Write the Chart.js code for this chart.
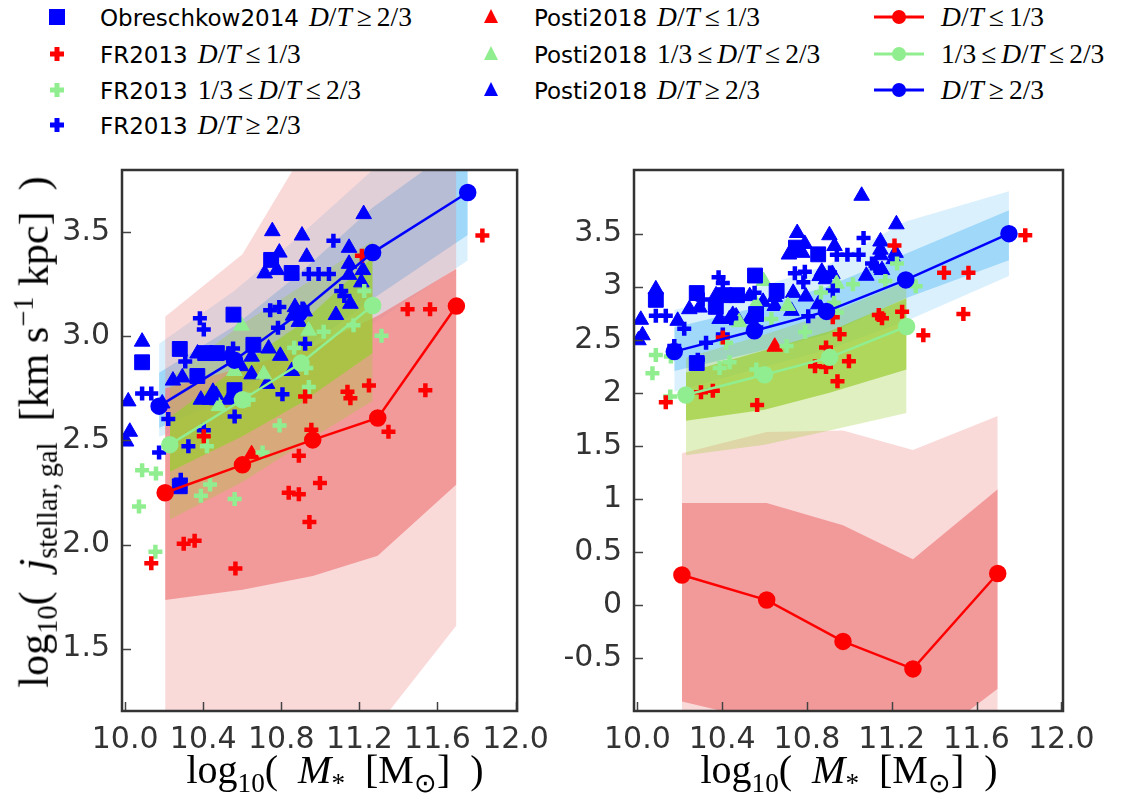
<!DOCTYPE html>
<html lang="en">
<head>
<meta charset="UTF-8">
<title>j_stellar vs M_star</title>
<script src="https://cdn.jsdelivr.net/npm/chart.js"></script>
<style>
    body { margin: 0; background: #fff; }
    #page { position: relative; width: 1122px; height: 800px; overflow: hidden; font-family: "DejaVu Sans", sans-serif; }
    canvas { position: absolute; top: 140px; }
    .mk { position: absolute; }
    .txt { position: absolute; font-size: 23px; color: #000; white-space: nowrap; transform: translateY(-50%); line-height: 30px; }
    .m { font-family: "Liberation Serif", serif; font-size: 27.5px; }
    .m.after { margin-left: 10px; }
    .rel { padding: 0 5px; }
    .lab { position: absolute; font-family: "Liberation Serif", serif; font-size: 40px; white-space: nowrap; color: #000; }
    .lab sub, .lab sup { font-size: 0.68em; }
</style>
</head>
<body>
<div id="page">
    <div id="legend"></div>
    <canvas id="left" width="560" height="660" style="left:0"></canvas>
    <canvas id="right" width="562" height="660" style="left:560px"></canvas>
    <div class="lab" style="left:335px;top:772px;transform:translate(-50%,-50%)">log<sub>10</sub>(&ensp;<i>M</i><sub>*</sub>&ensp;[M<sub>⊙</sub>]&ensp;)</div>
    <div class="lab" style="left:849px;top:772px;transform:translate(-50%,-50%)">log<sub>10</sub>(&ensp;<i>M</i><sub>*</sub>&ensp;[M<sub>⊙</sub>]&ensp;)</div>
    <div class="lab" style="left:36px;top:432px;font-size:42px;transform:translate(-50%,-50%) rotate(-90deg)">log<sub>10</sub>(&ensp;<i>j</i><sub>stellar,&thinsp;gal</sub>&ensp;[km s<sup>−1</sup> kpc]&ensp;)</div>
</div>

<script>
    // tick labels
    const xTicks = [10.0, 10.4, 10.8, 11.2, 11.6, 12.0];
    const yTicksLeft = [1.5, 2.0, 2.5, 3.0, 3.5];
    const yTicksRight = [-0.5, 0, 0.5, 1, 1.5, 2, 2.5, 3, 3.5];

    // observations, same points in both panels
    const obrX = [10.087, 10.28, 10.37, 10.41, 10.47, 10.555, 10.56, 10.657, 10.748, 10.853, 10.28];
    const obrY = [2.876, 2.94, 2.81, 2.92, 2.92, 3.105, 2.742, 2.96, 3.368, 3.305, 2.28];

    const fr13LowX = [11.83, 11.447, 11.562, 11.538, 11.249, 11.139, 11.154, 10.922, 11.213, 11.349, 10.954, 10.89, 10.998, 10.838, 10.89, 10.944, 10.30, 10.356, 10.134, 10.565, 10.403];
    const fr13LowY = [3.485, 3.131, 3.131, 2.742, 2.764, 2.734, 2.703, 2.711, 3.388, 2.542, 2.552, 2.427, 2.296, 2.249, 2.242, 2.108, 2.004, 2.018, 1.91, 1.885, 2.52];

    const fr13MidX = [11.313, 11.17, 11.017, 11.225, 10.941, 10.866, 10.928, 10.791, 10.704, 10.419, 10.435, 10.388, 10.561, 10.087, 10.158, 10.071, 10.155, 10.632];
    const fr13MidY = [3.003, 3.054, 3.023, 3.219, 2.757, 2.946, 2.849, 2.572, 2.442, 2.472, 2.288, 2.234, 2.219, 2.357, 2.342, 2.183, 1.965, 2.696];

    const fr13HighX = [11.067, 10.941, 10.991, 11.044, 11.107, 11.123, 10.383, 10.403, 10.743, 10.79, 10.783, 10.909, 10.922, 10.553, 10.427, 10.308, 10.087, 10.134, 10.806, 10.443, 10.221, 10.174, 10.324, 10.403, 10.561, 10.285];
    const fr13HighY = [3.46, 3.30, 3.30, 3.30, 3.219, 3.195, 3.088, 3.034, 3.126, 3.141, 3.042, 3.134, 2.965, 2.942, 2.918, 2.88, 2.726, 2.726, 2.722, 2.703, 2.603, 2.442, 2.472, 2.549, 2.615, 2.311];

    const postiLowX = [10.648];
    const postiLowY = [2.434];

    const postiMidX = [10.596, 10.48, 10.71, 10.56, 10.94];
    const postiMidY = [3.052, 2.665, 2.818, 2.834, 3.028];

    const postiHighX = [10.016, 10.024, 10.005, 10.087, 10.19, 10.245, 10.293, 10.371, 10.388, 10.435, 10.45, 10.466, 10.53, 10.53, 10.593, 10.648, 10.648, 10.735, 10.795, 10.727, 10.854, 10.87, 10.86, 10.92, 10.89, 11.08, 11.154, 11.147, 11.147, 11.147, 11.218, 11.21, 11.222, 10.906, 10.93, 10.754, 10.79, 10.715, 10.778, 11.058];
    const postiHighY = [2.688, 2.542, 2.495, 2.975, 2.678, 2.788, 2.803, 2.918, 2.696, 2.696, 2.734, 2.719, 2.696, 2.911, 2.857, 2.903, 2.818, 2.942, 2.907, 2.772, 2.834, 3.141, 3.10, 3.12, 3.07, 3.103, 3.157, 3.426, 3.349, 3.296, 3.319, 3.26, 3.588, 3.485, 3.383, 3.506, 3.403, 3.303, 3.319, 3.857];

    // left panel: simulation medians with inner and outer percentile ranges
    const lowLX = [10.205, 10.601, 10.961, 11.294, 11.697];
    const lowLMed = [2.249, 2.383, 2.503, 2.608, 3.146];
    const lowLInHi = [2.75, 2.85, 2.95, 3.10, 3.326];
    const lowLInLo = [1.734, 1.783, 1.849, 1.946, 2.288];
    const lowLOutHi = [3.095, 3.395, 3.96, 4.3, 4.6];
    const lowLOutLo = [0.9, 0.95, 1.0, 1.13, 1.611];

    const midLX = [10.229, 10.601, 10.901, 11.268];
    const midLMed = [2.48, 2.696, 2.872, 3.149];
    const midLInHi = [2.61, 2.87, 3.06, 3.38];
    const midLInLo = [2.35, 2.52, 2.68, 2.92];
    const midLOutHi = [2.80, 3.06, 3.24, 3.46];
    const midLOutLo = [2.12, 2.30, 2.48, 2.69];

    const highLX = [10.174, 10.56, 10.89, 11.268, 11.755];
    const highLMed = [2.665, 2.886, 3.11, 3.403, 3.692];
    const highLInHi = [2.826, 3.05, 3.30, 3.62, 3.95];
    const highLInLo = [2.56, 2.72, 2.92, 3.18, 3.488];
    const highLOutHi = [2.965, 3.22, 3.48, 3.80, 4.10];
    const highLOutLo = [2.518, 2.64, 2.82, 3.06, 3.365];

    // right panel
    const lowRX = [10.21, 10.61, 10.97, 11.30, 11.70];
    const lowRMed = [0.282, 0.046, -0.344, -0.603, 0.296];
    const lowRInHi = [0.96, 0.96, 0.75, 0.43, 1.09];
    const lowRInLo = [-0.91, -1.1, -1.3, -1.4, -0.79];
    const lowROutHi = [1.43, 1.63, 1.645, 1.46, 1.78];
    const lowROutLo = [-1.3, -1.5, -1.7, -1.8, -1.2];

    const midRX = [10.229, 10.60, 10.907, 11.27];
    const midRMed = [1.979, 2.17, 2.334, 2.625];
    const midRInHi = [2.19, 2.40, 2.58, 2.89];
    const midRInLo = [1.736, 1.84, 2.0, 2.22];
    const midROutHi = [2.33, 2.55, 2.75, 3.05];
    const midROutLo = [1.41, 1.51, 1.645, 1.81];

    const highRX = [10.174, 10.552, 10.892, 11.266, 11.753];
    const highRMed = [2.388, 2.585, 2.767, 3.064, 3.5];
    const highRInHi = [2.615, 2.80, 3.0, 3.31, 3.72];
    const highRInLo = [2.206, 2.38, 2.55, 2.89, 3.25];
    const highROutHi = [2.78, 2.98, 3.2, 3.615, 3.90];
    const highROutLo = [2.01, 2.22, 2.40, 2.675, 3.10];

    const RED = '#ff0000', GREEN = '#90ee90', BLUE = '#0000ff';
    const redBand = '240,128,128', greenBand = '154,205,50', blueBand = '135,206,250';

    function pts(xs, ys) {
        return xs.map((x, i) => ({ x: x, y: ys[i] }));
    }

    function bandSets(xs, hi, lo, rgb, alpha, order) {
        return [
            { type: 'line', data: pts(xs, hi), fill: '+1', backgroundColor: `rgba(${rgb},${alpha})`,
              borderColor: 'rgba(0,0,0,0)', borderWidth: 0, pointRadius: 0, tension: 0, order: order },
            { type: 'line', data: pts(xs, lo), fill: false,
              borderColor: 'rgba(0,0,0,0)', borderWidth: 0, pointRadius: 0, tension: 0, order: order }
        ];
    }

    function obsSet(xs, ys, style, color, r) {
        return {
            type: 'scatter', data: pts(xs, ys), showLine: false,
            pointStyle: style, pointRadius: r, pointHoverRadius: r,
            pointBackgroundColor: color, pointBorderColor: color,
            pointBorderWidth: style === 'cross' ? 4.5 : 1, order: 2
        };
    }

    function medianSet(xs, ys, color) {
        return {
            type: 'line', data: pts(xs, ys), borderColor: color, borderWidth: 2.5, fill: false, tension: 0,
            pointRadius: 7.5, pointBackgroundColor: color, pointBorderColor: color, order: 1
        };
    }

    function observations() {
        return [
            obsSet(obrX, obrY, 'rect', BLUE, 10.5),
            obsSet(fr13LowX, fr13LowY, 'cross', RED, 7),
            obsSet(fr13MidX, fr13MidY, 'cross', GREEN, 7),
            obsSet(fr13HighX, fr13HighY, 'cross', BLUE, 7),
            obsSet(postiLowX, postiLowY, 'triangle', RED, 9),
            obsSet(postiMidX, postiMidY, 'triangle', GREEN, 9),
            obsSet(postiHighX, postiHighY, 'triangle', BLUE, 9)
        ];
    }

    // frame on four sides and ticks pointing inwards
    const framePlugin = {
        id: 'frame',
        afterDraw(chart) {
            const { ctx, chartArea: a, scales } = chart;
            ctx.save();
            ctx.strokeStyle = '#444';
            ctx.lineWidth = 1.5;
            ctx.beginPath();
            scales.x.ticks.forEach(t => {
                const px = Math.round(scales.x.getPixelForValue(t.value)) + 0.5;
                ctx.moveTo(px, a.bottom);
                ctx.lineTo(px, a.bottom - 9);
            });
            scales.y.ticks.forEach(t => {
                const py = Math.round(scales.y.getPixelForValue(t.value)) + 0.5;
                ctx.moveTo(a.left, py);
                ctx.lineTo(a.left + 9, py);
            });
            ctx.stroke();
            ctx.strokeStyle = '#333';
            ctx.lineWidth = 2.5;
            ctx.strokeRect(a.left, a.top, a.right - a.left, a.bottom - a.top);
            ctx.restore();
        }
    };

    function makeOptions(yMin, yMax, yTicks, yWidth, padRight, yFmt) {
        const tickFont = { family: 'DejaVu Sans', size: 30 };
        return {
            responsive: false,
            animation: false,
            events: [],
            layout: { padding: { left: 0, top: 10, right: padRight, bottom: 0 } },
            plugins: { legend: { display: false }, tooltip: { enabled: false } },
            scales: {
                x: {
                    type: 'linear', min: 9.984, max: 12.008,
                    grid: { display: false, drawTicks: false }, border: { display: false },
                    afterBuildTicks: s => { s.ticks = xTicks.map(v => ({ value: v })); },
                    afterFit: s => { s.height = 89; },
                    ticks: { autoSkip: false, maxRotation: 0, padding: 11, color: '#333', font: tickFont,
                             callback: v => v.toFixed(1) }
                },
                y: {
                    type: 'linear', min: yMin, max: yMax,
                    grid: { display: false, drawTicks: false }, border: { display: false },
                    afterBuildTicks: s => { s.ticks = yTicks.map(v => ({ value: v })); },
                    afterFit: s => { s.width = yWidth; },
                    ticks: { autoSkip: false, padding: 12, color: '#333', font: tickFont, callback: yFmt }
                }
            }
        };
    }

    // stacking, bottom to top: blue bands, red bands, green bands
    const leftSets = [].concat(
        bandSets(midLX, midLInHi, midLInLo, greenBand, 0.7, 9),
        bandSets(midLX, midLOutHi, midLOutLo, greenBand, 0.3, 10),
        bandSets(lowLX, lowLInHi, lowLInLo, redBand, 0.7, 19),
        bandSets(lowLX, lowLOutHi, lowLOutLo, redBand, 0.3, 20),
        bandSets(highLX, highLInHi, highLInLo, blueBand, 0.7, 29),
        bandSets(highLX, highLOutHi, highLOutLo, blueBand, 0.3, 30),
        observations(),
        [medianSet(lowLX, lowLMed, RED), medianSet(midLX, midLMed, GREEN), medianSet(highLX, highLMed, BLUE)]
    );

    const rightSets = [].concat(
        bandSets(midRX, midRInHi, midRInLo, greenBand, 0.7, 9),
        bandSets(midRX, midROutHi, midROutLo, greenBand, 0.3, 10),
        bandSets(lowRX, lowRInHi, lowRInLo, redBand, 0.7, 19),
        bandSets(lowRX, lowROutHi, lowROutLo, redBand, 0.3, 20),
        bandSets(highRX, highRInHi, highRInLo, blueBand, 0.7, 29),
        bandSets(highRX, highROutHi, highROutLo, blueBand, 0.3, 30),
        observations(),
        [medianSet(lowRX, lowRMed, RED), medianSet(midRX, midRMed, GREEN), medianSet(highRX, highRMed, BLUE)]
    );

    new Chart(document.getElementById('left'), {
        type: 'scatter',
        data: { datasets: leftSets },
        options: makeOptions(1.2, 3.8, yTicksLeft, 122, 12, v => v.toFixed(1)),
        plugins: [framePlugin]
    });

    new Chart(document.getElementById('right'), {
        type: 'scatter',
        data: { datasets: rightSets },
        options: makeOptions(-1.0, 4.1, yTicksRight, 74, 59, v => String(Math.round(v * 10) / 10)),
        plugins: [framePlugin]
    });

    // legend, drawn as html with svg markers
    const DT_LOW = '<i>D</i>/<i>T</i><span class="rel">≤</span>1/3';
    const DT_MID = '1/3<span class="rel">≤</span><i>D</i>/<i>T</i><span class="rel">≤</span>2/3';
    const DT_HIGH = '<i>D</i>/<i>T</i><span class="rel">≥</span>2/3';
    const legendItems = [
        { col: 0, row: 0, kind: 'square', color: BLUE, name: 'Obreschkow2014', math: DT_HIGH },
        { col: 0, row: 1, kind: 'plus', color: RED, name: 'FR2013', math: DT_LOW },
        { col: 0, row: 2, kind: 'plus', color: GREEN, name: 'FR2013', math: DT_MID },
        { col: 0, row: 3, kind: 'plus', color: BLUE, name: 'FR2013', math: DT_HIGH },
        { col: 1, row: 0, kind: 'tri', color: RED, name: 'Posti2018', math: DT_LOW },
        { col: 1, row: 1, kind: 'tri', color: GREEN, name: 'Posti2018', math: DT_MID },
        { col: 1, row: 2, kind: 'tri', color: BLUE, name: 'Posti2018', math: DT_HIGH },
        { col: 2, row: 0, kind: 'line', color: RED, name: '', math: DT_LOW },
        { col: 2, row: 1, kind: 'line', color: GREEN, name: '', math: DT_MID },
        { col: 2, row: 2, kind: 'line', color: BLUE, name: '', math: DT_HIGH }
    ];
    const colMarker = [57, 491, 899];
    const colText = [100, 534, 941];
    const rowY = [17, 54, 90, 125];

    function markerSvg(kind, color) {
        if (kind === 'square') return `<rect x="-8" y="-8" width="16" height="16" fill="${color}"/>`;
        if (kind === 'plus') return `<rect x="-7" y="-2.5" width="14" height="5" fill="${color}"/><rect x="-2.5" y="-7" width="5" height="14" fill="${color}"/>`;
        if (kind === 'tri') return `<polygon points="0,-8 7,6 -7,6" fill="${color}"/>`;
        return `<line x1="-25" y1="0" x2="25" y2="0" stroke="${color}" stroke-width="3"/><circle cx="0" cy="0" r="7" fill="${color}"/>`;
    }

    const legend = document.getElementById('legend');
    legendItems.forEach(it => {
        const mx = colMarker[it.col], my = rowY[it.row];
        const w = it.kind === 'line' ? 60 : 24;
        legend.insertAdjacentHTML('beforeend',
            `<svg class="mk" width="${w}" height="24" viewBox="${-w / 2} -12 ${w} 24" style="left:${mx - w / 2}px;top:${my - 12}px">${markerSvg(it.kind, it.color)}</svg>`);
        const nameHtml = it.name ? `${it.name}<span class="m after">${it.math}</span>` : `<span class="m">${it.math}</span>`;
        legend.insertAdjacentHTML('beforeend',
            `<div class="txt" style="left:${colText[it.col]}px;top:${my}px">${nameHtml}</div>`);
    });
</script>
</body>
</html>
